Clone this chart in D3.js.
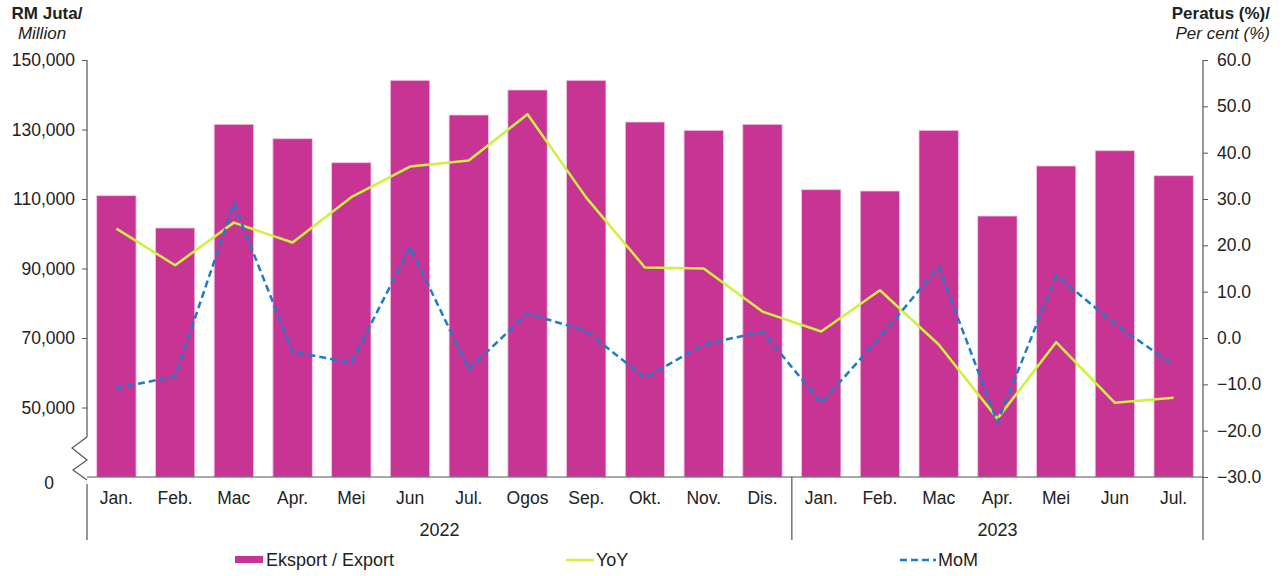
<!DOCTYPE html>
<html>
<head>
<meta charset="utf-8">
<script src="https://cdn.jsdelivr.net/npm/d3@7"></script>
<style>
  body { margin: 0; background: #fff; }
  svg text { font-family: "Liberation Sans", Arial, sans-serif; fill: #222; }
</style>
</head>
<body>
<div id="chart"></div>
<script>
var months = ["Jan.", "Feb.", "Mac", "Apr.", "Mei", "Jun", "Jul.", "Ogos", "Sep.", "Okt.", "Nov.", "Dis.",
              "Jan.", "Feb.", "Mac", "Apr.", "Mei", "Jun", "Jul."];
var years = [{label: "2022", from: 0, to: 11}, {label: "2023", from: 12, to: 18}];

var exportVals = [110950, 101650, 131490, 127350, 120450, 144150, 134170, 141370, 144150, 132150, 129760, 131490,
                  112680, 112300, 129760, 105100, 119500, 123900, 116700];
var yoyVals = [23.6, 15.7, 24.9, 20.6, 30.4, 37.0, 38.3, 48.3, 30.3, 15.2, 15.0, 5.7,
               1.4, 10.3, -1.4, -17.4, -0.9, -14.0, -12.9];
var momVals = [-10.8, -8.3, 29.0, -3.0, -5.3, 19.6, -6.7, 5.3, 1.5, -8.6, -1.4, 1.4,
               -14.0, 0.2, 15.3, -18.2, 13.5, 3.1, -5.9];

var leftTicks = [50000, 70000, 90000, 110000, 130000, 150000];
var rightTicks = [-30, -20, -10, 0, 10, 20, 30, 40, 50, 60];

var width = 1284, height = 576;
var plotL = 87, plotR = 1203, plotT = 60, plotB = 477;
var fs = "17.5px";

var svg = d3.select("#chart").append("svg")
    .attr("width", width)
    .attr("height", height);

var x = d3.scaleBand()
    .domain(d3.range(months.length))
    .range([plotL, plotR])
    .paddingInner(0.33)
    .paddingOuter(0.165);

// left axis is broken: the bottom of the range stands for 0
var yL = d3.scaleLinear().domain([30000, 150000]).range([plotB, plotT]);
var yR = d3.scaleLinear().domain([-30, 60]).range([plotB, plotT]);

var axisColor = "#555";

// bars
svg.append("g").selectAll("rect")
    .data(exportVals)
    .enter().append("rect")
    .attr("x", function(d, i) { return x(i); })
    .attr("y", function(d) { return yL(d); })
    .attr("width", x.bandwidth())
    .attr("height", function(d) { return plotB - yL(d); })
    .attr("fill", "#C83494")
    .attr("stroke", "#f3c6e2")
    .attr("stroke-width", 0.8);

// left axis
var gl = svg.append("g")
    .attr("transform", "translate(" + plotL + ",0)")
    .call(d3.axisLeft(yL).tickValues(leftTicks).tickSize(5).tickPadding(7)
        .tickFormat(d3.format(",")));
gl.select(".domain").remove();
gl.selectAll("line").attr("stroke", axisColor);
gl.selectAll("text").style("font-size", fs).attr("fill", "#222");

svg.append("line")
    .attr("x1", plotL).attr("x2", plotL)
    .attr("y1", plotT).attr("y2", 437)
    .attr("stroke", axisColor).attr("stroke-width", 1.2);
svg.append("path")
    .attr("d", "M" + plotL + ",437 L72,448 L" + plotL + ",460 L73,470 L" + plotL + ",480")
    .attr("fill", "none").attr("stroke", axisColor).attr("stroke-width", 1.2);
svg.append("line")
    .attr("x1", plotL).attr("x2", plotL)
    .attr("y1", 484).attr("y2", 540)
    .attr("stroke", axisColor).attr("stroke-width", 1.2);
svg.append("text")
    .attr("x", plotL - 33).attr("y", 483)
    .attr("text-anchor", "end").attr("dy", "0.32em")
    .style("font-size", fs)
    .text("0");

// right axis
var gr = svg.append("g")
    .attr("transform", "translate(" + plotR + ",0)")
    .call(d3.axisRight(yR).tickValues(rightTicks).tickSize(5).tickPadding(9)
        .tickFormat(d3.format(".1f")));
gr.select(".domain").remove();
gr.selectAll("line").attr("stroke", axisColor);
gr.selectAll("text").style("font-size", fs).attr("fill", "#222");
svg.append("line")
    .attr("x1", plotR).attr("x2", plotR)
    .attr("y1", plotT).attr("y2", 540)
    .attr("stroke", axisColor).attr("stroke-width", 1.2);

// bottom axis
svg.append("line")
    .attr("x1", plotL).attr("x2", plotR)
    .attr("y1", plotB).attr("y2", plotB)
    .attr("stroke", axisColor).attr("stroke-width", 1.2);

svg.append("g").selectAll("text")
    .data(months)
    .enter().append("text")
    .attr("x", function(d, i) { return x(i) + x.bandwidth() / 2; })
    .attr("y", 504)
    .attr("text-anchor", "middle")
    .style("font-size", fs)
    .text(function(d) { return d; });

var sepX = (x(years[0].to) + x.bandwidth() + x(years[1].from)) / 2;
svg.append("line")
    .attr("x1", sepX).attr("x2", sepX)
    .attr("y1", plotB).attr("y2", 540)
    .attr("stroke", axisColor).attr("stroke-width", 1.2);

svg.append("g").selectAll("text")
    .data(years)
    .enter().append("text")
    .attr("x", function(d) { return (x(d.from) + x(d.to) + x.bandwidth()) / 2; })
    .attr("y", 536)
    .attr("text-anchor", "middle")
    .style("font-size", "18px")
    .text(function(d) { return d.label; });

// lines
var cx = function(d, i) { return x(i) + x.bandwidth() / 2; };

svg.append("path")
    .datum(yoyVals)
    .attr("fill", "none")
    .attr("stroke", "#CCF23C")
    .attr("stroke-width", 2.5)
    .attr("stroke-linejoin", "round")
    .attr("d", d3.line().x(cx).y(function(d) { return yR(d); }));

svg.append("path")
    .datum(momVals)
    .attr("fill", "none")
    .attr("stroke", "#1C7CC8")
    .attr("stroke-width", 2.5)
    .attr("stroke-dasharray", "7,4")
    .attr("d", d3.line().x(cx).y(function(d) { return yR(d); }));

// axis titles
svg.append("text").attr("x", 47).attr("y", 19)
    .attr("text-anchor", "middle")
    .style("font-size", "17px").style("font-weight", "bold")
    .text("RM Juta/");
svg.append("text").attr("x", 42).attr("y", 39)
    .attr("text-anchor", "middle")
    .style("font-size", "17px").style("font-style", "italic")
    .text("Million");
svg.append("text").attr("x", 1270).attr("y", 19)
    .attr("text-anchor", "end")
    .style("font-size", "17px").style("font-weight", "bold")
    .text("Peratus (%)/");
svg.append("text").attr("x", 1270).attr("y", 39)
    .attr("text-anchor", "end")
    .style("font-size", "17px").style("font-style", "italic")
    .text("Per cent (%)");

// legend
var lg = svg.append("g");
lg.append("rect").attr("x", 235).attr("y", 556).attr("width", 28).attr("height", 7).attr("fill", "#C83494");
lg.append("text").attr("x", 266).attr("y", 566).style("font-size", "18px").text("Eksport / Export");
lg.append("line").attr("x1", 566).attr("x2", 594).attr("y1", 560).attr("y2", 560)
    .attr("stroke", "#CCF23C").attr("stroke-width", 2.5);
lg.append("text").attr("x", 596).attr("y", 566).style("font-size", "18px").text("YoY");
lg.append("line").attr("x1", 900).attr("x2", 936).attr("y1", 560).attr("y2", 560)
    .attr("stroke", "#1C7CC8").attr("stroke-width", 2.5).attr("stroke-dasharray", "7,4");
lg.append("text").attr("x", 938).attr("y", 566).style("font-size", "18px").text("MoM");
</script>
</body>
</html>
